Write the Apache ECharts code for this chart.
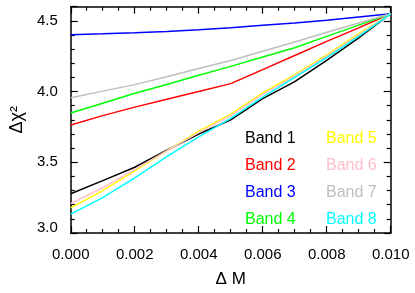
<!DOCTYPE html>
<html>
<head>
<meta charset="utf-8">
<script src="https://cdn.jsdelivr.net/npm/echarts@6/dist/echarts.min.js"></script>
<style>html,body{margin:0;padding:0;background:#fff}#c{width:415px;height:293px}</style>
</head>
<body>
<div id="c"></div>
<script>
const deltaM = [0, 0.001, 0.002, 0.003, 0.004, 0.005, 0.006, 0.007, 0.008, 0.009, 0.010];
const band1 = [3.278, 3.37, 3.465, 3.585, 3.70, 3.80, 3.95, 4.07, 4.22, 4.38, 4.55];
const band2 = [3.764, 3.83, 3.89, 3.945, 4.0, 4.056, 4.155, 4.255, 4.355, 4.45, 4.55];
const band3 = [4.402, 4.408, 4.415, 4.425, 4.437, 4.452, 4.468, 4.485, 4.505, 4.527, 4.55];
const band4 = [3.848, 3.918, 3.988, 4.05, 4.115, 4.178, 4.245, 4.31, 4.39, 4.47, 4.55];
const band5 = [3.177, 3.30, 3.44, 3.58, 3.72, 3.84, 3.99, 4.12, 4.26, 4.41, 4.55];
const band6 = [3.208, 3.32, 3.45, 3.58, 3.71, 3.83, 3.98, 4.11, 4.25, 4.40, 4.55];
const band7 = [3.956, 4.003, 4.049, 4.105, 4.163, 4.22, 4.285, 4.35, 4.42, 4.485, 4.55];
const band8 = [3.133, 3.25, 3.39, 3.54, 3.68, 3.81, 3.96, 4.10, 4.24, 4.39, 4.55];
const bandNames = ['Band 1','Band 2','Band 3','Band 4','Band 5','Band 6','Band 7','Band 8'];
const bandColors = ['#000000','#ff0000','#0000ff','#00ff00','#ffff00','#ffc0cb','#bebebe','#00ffff'];
const bandValues = [band1, band2, band3, band4, band5, band6, band7, band8];

const FONT = 'Liberation Sans';
const chart = echarts.init(document.getElementById('c'));

const series = bandNames.map((n, i) => ({
  name: n, type: 'line', xAxisIndex: 0, yAxisIndex: 0,
  data: deltaM.map((x, j) => [x, bandValues[i][j]]),
  showSymbol: false, symbol: 'none',
  lineStyle: { color: bandColors[i], width: 1.5 },
  itemStyle: { color: bandColors[i] },
  animation: false
}));

function legendCfg(names, left) {
  return {
    orient: 'vertical', left: left, top: 131, icon: 'none',
    itemWidth: 0, itemHeight: 14, itemGap: 11, selectedMode: false,
    padding: 0,
    data: names.map(n => ({ name: n, textStyle: { color: bandColors[bandNames.indexOf(n)], fontSize: 16, fontFamily: FONT } }))
  };
}

chart.setOption({
  animation: false,
  grid: { left: 68.3, right: 24.3, top: 6.7, bottom: 58.4, show: false },
  legend: [legendCfg(bandNames.slice(0,4), 240), legendCfg(bandNames.slice(4), 321)],
  xAxis: [
    { type: 'value', min: 0, max: 0.01, interval: 0.002, position: 'bottom',
      axisLine: { show: true, lineStyle: { color: '#000', width: 1.5 } },
      axisTick: { show: true, inside: true, length: 7, lineStyle: { color: '#000', width: 1.2 } },
      minorTick: { show: true, splitNumber: 4, length: 4, lineStyle: { color: '#000', width: 1.2 } },
      splitLine: { show: false },
      axisLabel: { color: '#000', fontSize: 15, fontFamily: FONT, margin: 14, formatter: v => v.toFixed(3) },
      name: 'Δ M', nameLocation: 'middle', nameGap: 38,
      nameTextStyle: { color: '#000', fontSize: 17, fontFamily: FONT } },
    { type: 'value', min: 0, max: 0.01, interval: 0.002, position: 'top',
      axisLine: { show: true, onZero: false, lineStyle: { color: '#000', width: 1.5 } },
      axisTick: { show: true, inside: true, length: 7, lineStyle: { color: '#000', width: 1.2 } },
      minorTick: { show: true, splitNumber: 4, length: 4, lineStyle: { color: '#000', width: 1.2 } },
      splitLine: { show: false }, axisLabel: { show: false } }
  ],
  yAxis: [
    { type: 'value', min: 3.0, max: 4.6, interval: 0.5, position: 'left',
      axisLine: { show: true, lineStyle: { color: '#000', width: 1.5 } },
      axisTick: { show: true, inside: true, length: 7, lineStyle: { color: '#000', width: 1.2 } },
      minorTick: { show: true, splitNumber: 5, length: 4, lineStyle: { color: '#000', width: 1.2 } },
      splitLine: { show: false },
      axisLabel: { color: '#000', fontSize: 15, fontFamily: FONT, margin: 13, showMaxLabel: false,
        formatter: v => Math.abs(v - 3.0) < 1e-9 ? '{lo|' + v.toFixed(1) + '}' : v.toFixed(1),
        rich: { lo: { fontSize: 15, fontFamily: FONT, color: '#000', padding: [0, 0, 11, 0] } } },
      name: 'Δχ²', nameLocation: 'middle', nameGap: 40, nameRotate: 90,
      nameTextStyle: { color: '#000', fontSize: 18, fontFamily: FONT } },
    { type: 'value', min: 3.0, max: 4.6, interval: 0.5, position: 'right',
      axisLine: { show: true, onZero: false, lineStyle: { color: '#000', width: 1.5 } },
      axisTick: { show: true, inside: true, length: 7, lineStyle: { color: '#000', width: 1.2 } },
      minorTick: { show: true, splitNumber: 5, length: 4, lineStyle: { color: '#000', width: 1.2 } },
      splitLine: { show: false }, axisLabel: { show: false } }
  ],
  series: series
});
</script>
</body>
</html>
